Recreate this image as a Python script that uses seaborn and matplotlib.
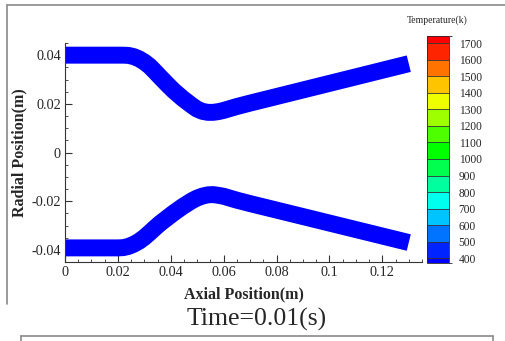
import matplotlib
matplotlib.use("Agg")
import matplotlib.pyplot as plt
import seaborn as sns
from matplotlib.colors import LinearSegmentedColormap, BoundaryNorm, ListedColormap, Normalize
from matplotlib.cm import ScalarMappable
from matplotlib.lines import Line2D
from matplotlib.ticker import MultipleLocator

sns.set_style("ticks")
plt.rcParams["font.family"] = ["Liberation Serif", "DejaVu Serif"]

# wall centre lines (m)
upper_x = [0, 0.01, 0.02, 0.022, 0.024, 0.026, 0.028, 0.030, 0.032, 0.034, 0.036, 0.0385, 0.041,
           0.0445, 0.048, 0.050, 0.052, 0.054, 0.056, 0.058, 0.060, 0.065, 0.07, 0.13]
upper_r = [0.0400, 0.0400, 0.0400, 0.0400, 0.0399, 0.0394, 0.0385, 0.0372, 0.0355, 0.0333, 0.0310,
           0.0282, 0.0255, 0.0222, 0.0193, 0.0178, 0.0169, 0.0165, 0.0165, 0.0168, 0.0173, 0.0189,
           0.0203, 0.0365]
lower_x = [0, 0.01, 0.02, 0.022, 0.024, 0.026, 0.028, 0.030, 0.032, 0.034, 0.036, 0.0385, 0.041,
           0.0445, 0.048, 0.050, 0.052, 0.054, 0.056, 0.058, 0.060, 0.065, 0.07, 0.13]
lower_r = [-0.0392, -0.0392, -0.0392, -0.0391, -0.0386, -0.0377, -0.0365, -0.0349, -0.0330, -0.0310,
           -0.0291, -0.0270, -0.0249, -0.0222, -0.0198, -0.0187, -0.0179, -0.0174, -0.0173, -0.0176,
           -0.0180, -0.0196, -0.0210, -0.0370]
wall_temp = 400  # K, whole wall at t = 0.01 s

# colour bar levels
temp_levels = [370, 400, 500, 600, 700, 800, 900, 1000, 1100, 1200, 1300, 1400, 1500, 1600, 1700, 1745]
temp_ticks = [400, 500, 600, 700, 800, 900, 1000, 1100, 1200, 1300, 1400, 1500, 1600, 1700]
time_label = "Time=0.01(s)"

rainbow = LinearSegmentedColormap.from_list("small_rainbow", ["#0000ff", "#00ffff", "#00ff00", "#ffff00", "#ff0000"])
tnorm = Normalize(temp_ticks[0], temp_ticks[-1])
mids = [(a + b) / 2 for a, b in zip(temp_levels[:-1], temp_levels[1:])]
cmap = ListedColormap([rainbow(tnorm(m)) for m in mids])
norm = BoundaryNorm(temp_levels, cmap.N)

fig = plt.figure(figsize=(5.05, 3.41), dpi=100)
ax = fig.add_axes([65 / 505, 1 - 262 / 341, 357 / 505, 219 / 341])

wall_col = rainbow(tnorm(wall_temp))
for xs, rs in [(upper_x, upper_r), (lower_x, lower_r)]:
    sns.lineplot(x=xs, y=rs, ax=ax, color=wall_col, lw=12.2,
                 solid_capstyle="butt", solid_joinstyle="round", sort=False)

ax.set_xlim(0, 0.135)
ax.set_ylim(-0.045, 0.045)
ax.xaxis.set_minor_locator(MultipleLocator(0.005))
ax.yaxis.set_minor_locator(MultipleLocator(0.005))
ax.set_xticks([0, 0.02, 0.04, 0.06, 0.08, 0.1, 0.12])
ax.set_xticklabels(["0", "0.02", "0.04", "0.06", "0.08", "0.1", "0.12"])
ax.set_yticks([-0.04, -0.02, 0, 0.02, 0.04])
ax.set_yticklabels(["-0.04", "-0.02", "0", "0.02", "0.04"])
ax.tick_params(which="major", direction="in", length=5, width=0.8, labelsize=10.3, pad=3, color="#333333")
ax.tick_params(which="minor", direction="in", length=2.5, width=0.6, color="#333333")
for s in ["top", "right"]:
    ax.spines[s].set_visible(False)
for s in ["left", "bottom"]:
    ax.spines[s].set_linewidth(0.8)
    ax.spines[s].set_color("#333333")
ax.set_xlabel("Axial Position(m)", fontsize=11.5, fontweight="bold", labelpad=5)
ax.set_ylabel("Radial Position(m)", fontsize=11.5, fontweight="bold", labelpad=3)

cax = fig.add_axes([427 / 505, 1 - 263 / 341, 22 / 505, 227 / 341])
sm = ScalarMappable(norm=norm, cmap=cmap)
cb = fig.colorbar(sm, cax=cax, boundaries=temp_levels, ticks=temp_ticks,
                  spacing="proportional", drawedges=True)
cb.dividers.set_color("#333333")
cb.dividers.set_linewidth(0.6)
cb.outline.set_linewidth(0.6)
cb.ax.tick_params(length=0, labelsize=8.3, pad=7)
fig.text(437 / 505, 1 - 20 / 341, "Temperature(k)", fontsize=7, ha="center", va="center")

fig.text(257 / 505, 1 - 319 / 341, time_label, fontsize=18.5, ha="center", va="center")

# surrounding frame of the page
gray = "#8a8a8a"
fig.add_artist(Line2D([7 / 505, 1.0], [1 - 5 / 341, 1 - 5 / 341], color=gray, lw=1.2))
fig.add_artist(Line2D([7 / 505, 7 / 505], [1 - 5 / 341, 1 - 304 / 341], color=gray, lw=1.2))
fig.add_artist(Line2D([21 / 505, 493 / 505], [1 - 336 / 341, 1 - 336 / 341], color=gray, lw=1.2))
fig.add_artist(Line2D([21 / 505, 21 / 505], [1 - 336 / 341, 0.0], color=gray, lw=1.2))
fig.add_artist(Line2D([493 / 505, 493 / 505], [1 - 336 / 341, 0.0], color=gray, lw=1.2))

fig.savefig("out.png", dpi=100)
